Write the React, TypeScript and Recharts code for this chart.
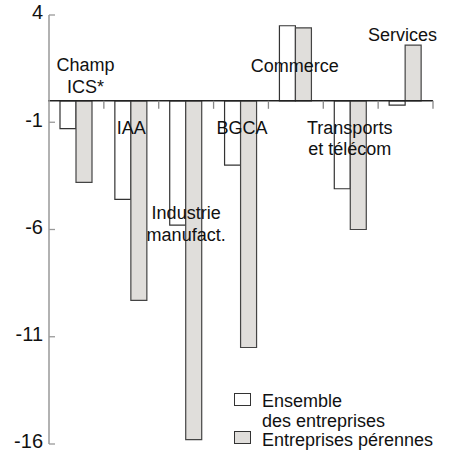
import {
  ComposedChart,
  Bar,
  Line,
  XAxis,
  YAxis,
  ReferenceLine,
  LabelList,
} from 'recharts';

const categories = [
  ['Champ', 'ICS*'],
  ['IAA'],
  ['Industrie', 'manufact.'],
  ['BGCA'],
  ['Commerce'],
  ['Transports', 'et télécom'],
  ['Services'],
];
const ensemble = [-1.3, -4.6, -5.8, -3.0, 3.5, -4.1, -0.2];
const perennes = [-3.8, -9.3, -15.8, -11.5, 3.4, -6.0, 2.6];
const yTicks = [4, -1, -6, -11, -16];

// where each category caption sits, in value units (layout only)
const labelAnchor = [1.68, -1.24, -5.22, -1.24, 1.66, -1.24, 3.1];
const labelShift = [9, 0, 0, 1, -1, -1, -3];

const FONT = '"Liberation Sans", Arial, Helvetica, sans-serif';

const data = categories.map((lines, i) => ({
  name: lines.join(' '),
  ensemble: ensemble[i],
  perennes: perennes[i],
  anchor: labelAnchor[i],
}));

function YTick({ x, y, payload }: any) {
  return (
    <g>
      <line x1={x} x2={x + 6} y1={y} y2={y} stroke="#999" strokeWidth={1.3} />
      <text
        x={x - 6}
        y={y}
        dy="0.22em"
        textAnchor="end"
        fontSize={20}
        fontFamily={FONT}
        fill="#111"
      >
        {payload.value}
      </text>
    </g>
  );
}

// zero line with the category boundary ticks hanging below it
function ZeroAxis(props: any) {
  const { x1, x2, y1 } = props;
  const step = (x2 - x1) / categories.length;
  return (
    <g>
      <line x1={x1 - 1} x2={x2} y1={y1} y2={y1} stroke="#222" strokeWidth={1.5} />
      {categories.map((_, i) => (
        <line
          key={i}
          x1={x1 + step * (i + 1)}
          x2={x1 + step * (i + 1)}
          y1={y1}
          y2={y1 + 8}
          stroke="#888"
          strokeWidth={1.3}
        />
      ))}
    </g>
  );
}

function Caption(props: any) {
  const { x, y, index } = props;
  const lines = categories[index];
  const cx = x + labelShift[index];
  return (
    <text x={cx} y={y} textAnchor="middle" fontSize={18} fontFamily={FONT} fill="#111">
      {lines.map((l, k) => (
        <tspan key={k} x={cx} dy={k === 0 ? '0.36em' : 21.5}>
          {l}
        </tspan>
      ))}
    </text>
  );
}

const swatch = (bg: string, top: number) => (
  <span
    style={{
      position: 'absolute',
      left: 0,
      top,
      width: 15,
      height: 11,
      border: '1px solid #333',
      background: bg,
    }}
  />
);

export default function App() {
  return (
    <div style={{ position: 'absolute', left: 0, top: 0, width: 450, height: 452, background: '#fff' }}>
      <ComposedChart
        width={450}
        height={452}
        data={data}
        margin={{ top: 15, right: 17, bottom: 8, left: 0 }}
        barGap={0}
      >
        <XAxis dataKey="name" hide />
        <YAxis
          width={49}
          type="number"
          domain={[-16, 4]}
          ticks={yTicks}
          interval={0}
          tickLine={false}
          tickSize={0}
          tickMargin={0}
          axisLine={{ stroke: '#999', strokeWidth: 1.5 }}
          tick={<YTick />}
        />
        <Bar
          dataKey="ensemble"
          barSize={16}
          fill="#ffffff"
          stroke="#333"
          strokeWidth={1.2}
          isAnimationActive={false}
        />
        <Bar
          dataKey="perennes"
          barSize={16}
          fill="#e0dedb"
          stroke="#444"
          strokeWidth={1.2}
          isAnimationActive={false}
        />
        <ReferenceLine y={0} shape={<ZeroAxis />} />
        <Line
          dataKey="anchor"
          stroke="none"
          dot={false}
          activeDot={false}
          legendType="none"
          isAnimationActive={false}
        >
          <LabelList dataKey="anchor" content={<Caption />} />
        </Line>
      </ComposedChart>

      <div
        style={{
          position: 'absolute',
          left: 234,
          top: 392,
          fontFamily: FONT,
          fontSize: 18,
          color: '#111',
          lineHeight: '19.5px',
        }}
      >
        <div style={{ position: 'relative', paddingLeft: 28 }}>
          {swatch('#fff', 1)}
          Ensemble
          <br />
          des entreprises
        </div>
        <div style={{ position: 'relative', paddingLeft: 28 }}>
          {swatch('#e0dedb', 0)}
          Entreprises pérennes
        </div>
      </div>
    </div>
  );
}
